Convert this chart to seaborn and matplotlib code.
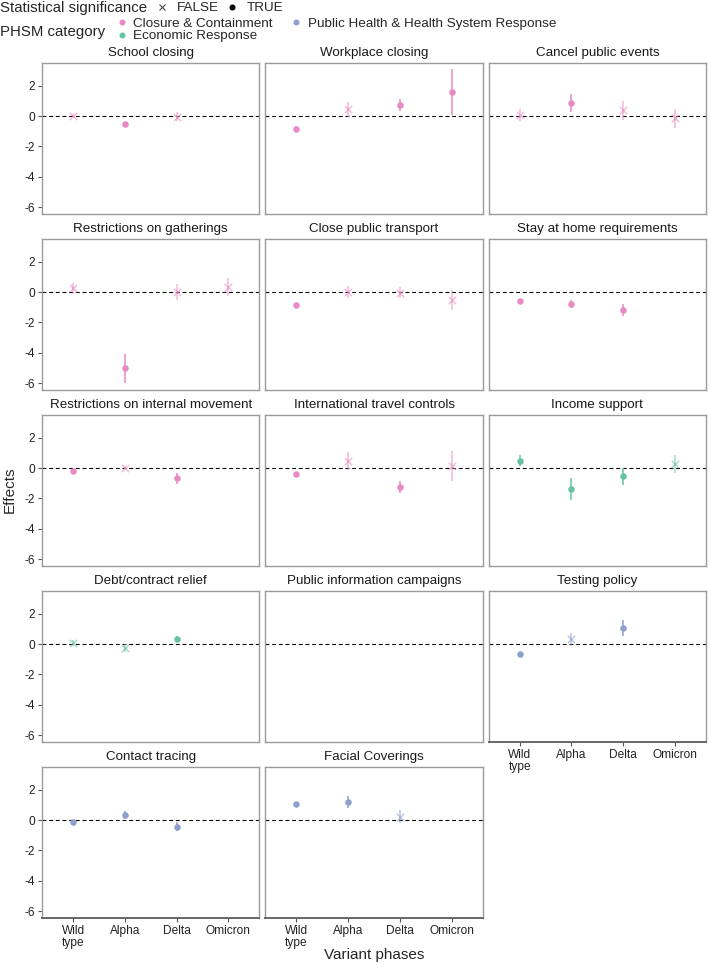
import numpy as np
import pandas as pd
import matplotlib
matplotlib.use("Agg")
import matplotlib.pyplot as plt
from matplotlib.lines import Line2D
import seaborn as sns

nan = np.nan

phases = ["Wild type", "Alpha", "Delta", "Omicron"]
phase_labels = ["Wild\ntype", "Alpha", "Delta", "Omicron"]

policies = ["School closing", "Workplace closing", "Cancel public events",
            "Restrictions on gatherings", "Close public transport", "Stay at home requirements",
            "Restrictions on internal movement", "International travel controls", "Income support",
            "Debt/contract relief", "Public information campaigns", "Testing policy",
            "Contact tracing", "Facial Coverings"]

categories = ["Closure & Containment"] * 8 + ["Economic Response"] * 2 + \
             ["Public Health & Health System Response"] * 4

# point estimates per phase (Wild type, Alpha, Delta, Omicron)
estimates = [
    [0.02, -0.54, -0.03, nan],
    [-0.83, 0.44, 0.72, 1.57],
    [0.10, 0.88, 0.37, -0.15],
    [0.26, -5.03, 0.00, 0.33],
    [-0.86, 0.00, -0.04, -0.55],
    [-0.57, -0.77, -1.18, nan],
    [-0.20, 0.02, -0.68, nan],
    [-0.39, 0.48, -1.23, 0.15],
    [0.50, -1.40, -0.55, 0.26],
    [0.07, -0.26, 0.31, nan],
    [nan, nan, nan, nan],
    [-0.64, 0.31, 1.07, nan],
    [-0.13, 0.35, -0.44, nan],
    [1.07, 1.20, 0.24, nan],
]

# half width of the confidence interval
ci_half = [
    [0.12, 0.12, 0.30, nan],
    [0.15, 0.48, 0.38, 1.53],
    [0.40, 0.60, 0.60, 0.65],
    [0.36, 0.98, 0.55, 0.60],
    [0.15, 0.38, 0.37, 0.66],
    [0.10, 0.25, 0.39, nan],
    [0.10, 0.10, 0.37, nan],
    [0.10, 0.60, 0.38, 0.98],
    [0.36, 0.73, 0.57, 0.60],
    [0.20, 0.27, 0.20, nan],
    [nan, nan, nan, nan],
    [0.12, 0.42, 0.52, nan],
    [0.10, 0.25, 0.30, nan],
    [0.10, 0.37, 0.46, nan],
]

significant = [
    [False, True, False, None],
    [True, False, True, True],
    [False, True, False, False],
    [False, True, False, False],
    [True, False, False, False],
    [True, True, True, None],
    [True, False, True, None],
    [True, False, True, False],
    [True, True, True, False],
    [False, False, True, None],
    [None, None, None, None],
    [True, False, True, None],
    [True, True, True, None],
    [True, True, False, None],
]

cat_colors = {"Closure & Containment": "#E78AC3",
              "Economic Response": "#66C2A5",
              "Public Health & Health System Response": "#8DA0CB"}

rows = []
for p, cat, est, hw, sig in zip(policies, categories, estimates, ci_half, significant):
    for i, ph in enumerate(phases):
        if np.isnan(est[i]):
            continue
        rows.append(dict(policy=p, category=cat, phase=ph, x=i, effect=est[i],
                         lower=est[i] - hw[i], upper=est[i] + hw[i], sig=sig[i]))
df = pd.DataFrame(rows)

sns.set_theme(style="white")
plt.rcParams["font.family"] = ["Liberation Sans", "DejaVu Sans"]
plt.rcParams["axes.unicode_minus"] = False

W, H = 709, 966
fig = plt.figure(figsize=(W / 100, H / 100), dpi=100)
gs = fig.add_gridspec(5, 3, left=42 / W, right=706 / W, top=1 - 63 / H, bottom=1 - 918 / H,
                      wspace=0.028, hspace=0.166)

frame_col = "#9a9a9a"
for k in range(15):
    r, c = divmod(k, 3)
    ax = fig.add_subplot(gs[r, c])
    if k >= len(policies):
        ax.axis("off")
        continue
    p = policies[k]
    sub = df[df.policy == p]
    col = cat_colors[categories[k]]
    ax.axhline(0, color="black", linestyle=(0, (3.5, 2.5)), linewidth=0.8, zorder=1)
    if len(sub):
        for _, rw in sub.iterrows():
            ax.vlines(rw.x, rw.lower, rw.upper, color=col, linewidth=1.1,
                      alpha=1.0 if rw.sig else 0.6, zorder=2)
        t = sub[sub.sig == True]
        f = sub[sub.sig == False]
        if len(t):
            sns.scatterplot(data=t, x="x", y="effect", color=col, marker="o", s=22,
                            linewidth=0, ax=ax, zorder=3, legend=False)
        if len(f):
            sns.scatterplot(data=f, x="x", y="effect", color=col, marker="x", s=28,
                            linewidth=1.0, alpha=0.6, ax=ax, zorder=3, legend=False)
    ax.set_xlim(-0.6, 3.6)
    ax.set_ylim(-6.45, 3.5)
    ax.set_yticks([2, 0, -2, -4, -6])
    ax.set_xticks(range(4))
    ax.set_xlabel("")
    ax.set_ylabel("")
    ax.set_title(p, fontsize=9.6, pad=5, color="#1a1a1a")
    for s in ax.spines.values():
        s.set_visible(True)
        s.set_color(frame_col)
        s.set_linewidth(1.0)
    bottom_panel = (r == 4) or (k == 11)
    ax.tick_params(axis="both", length=3, width=0.8, color="#555555", labelsize=8.6,
                   labelcolor="#222222", pad=2, bottom=bottom_panel, left=(c == 0))
    if c == 0:
        ax.set_yticklabels(["2", "0", "-2", "-4", "-6"])
    else:
        ax.set_yticklabels([])
    if bottom_panel:
        ax.set_xticklabels(phase_labels, linespacing=1.0, va="top")
        ax.spines["bottom"].set_color("#666666")
        ax.spines["bottom"].set_linewidth(1.4)
    else:
        ax.set_xticklabels([])

fig.text(10 / W, 1 - 490 / H, "Effects", rotation=90, ha="center", va="center", fontsize=11)
fig.text(374 / W, 1 - 955 / H, "Variant phases", ha="center", va="center", fontsize=11)

# legends
fig.text(0.0, 1 - 8 / H, "Statistical significance", ha="left", va="center", fontsize=10.8)
sig_handles = [Line2D([], [], color="#444444", marker="x", linestyle="", markersize=4, markeredgewidth=0.8),
               Line2D([], [], color="black", marker="o", linestyle="", markersize=3.3)]
fig.legend(sig_handles, ["FALSE", "TRUE"], ncol=2, frameon=False, loc="center left",
           bbox_to_anchor=(155 / W, 1 - 8 / H), fontsize=9.7, handlelength=1.0,
           handletextpad=0.6, columnspacing=0.5, borderpad=0, borderaxespad=0)

fig.text(0.0, 1 - 32 / H, "PHSM category", ha="left", va="center", fontsize=10.8)
cat_handles = [Line2D([], [], color=cat_colors[c], marker="o", linestyle="", markersize=3.3)
               for c in cat_colors]
fig.legend(cat_handles, list(cat_colors), ncol=2, frameon=False, loc="center left",
           bbox_to_anchor=(115 / W, 1 - 30 / H), fontsize=9.7, handlelength=1.0,
           handletextpad=0.35, columnspacing=1.25, borderpad=0, borderaxespad=0,
           labelspacing=0.0)

fig.savefig("out.png", dpi=100)
